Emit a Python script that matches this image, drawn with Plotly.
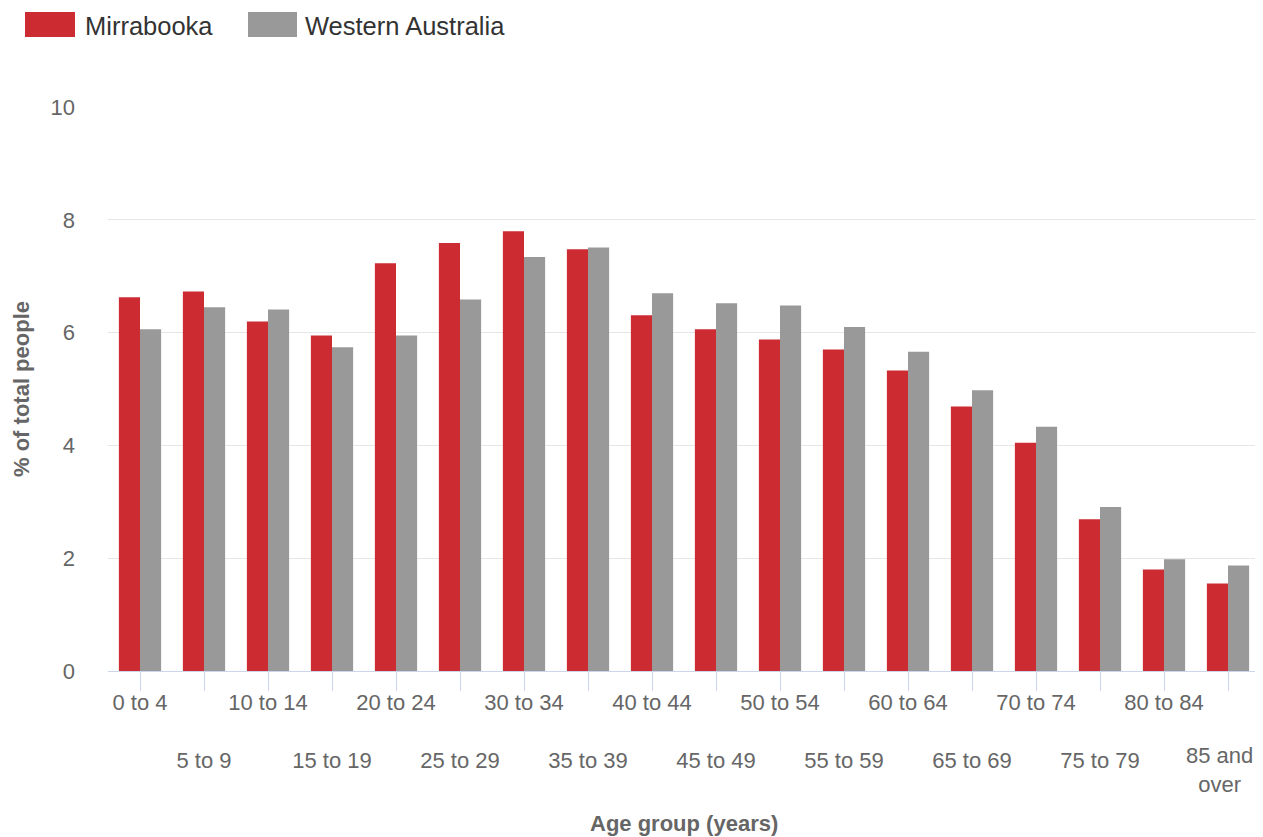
import plotly.graph_objects as go

categories = ["0 to 4", "5 to 9", "10 to 14", "15 to 19", "20 to 24", "25 to 29",
              "30 to 34", "35 to 39", "40 to 44", "45 to 49", "50 to 54", "55 to 59",
              "60 to 64", "65 to 69", "70 to 74", "75 to 79", "80 to 84", "85 and over"]
tick_labels = ["0 to 4", "<br><br>5 to 9", "10 to 14", "<br><br>15 to 19", "20 to 24",
               "<br><br>25 to 29", "30 to 34", "<br><br>35 to 39", "40 to 44",
               "<br><br>45 to 49", "50 to 54", "<br><br>55 to 59", "60 to 64",
               "<br><br>65 to 69", "70 to 74", "<br><br>75 to 79", "80 to 84",
               ""]
last_label = "85 and<br>over"
x_title = "Age group (years)"
y_title = "% of total people"
mirrabooka = [6.63, 6.73, 6.20, 5.95, 7.23, 7.59, 7.80, 7.48, 6.31, 6.06, 5.88, 5.70,
              5.33, 4.69, 4.05, 2.69, 1.80, 1.55]
western_australia = [6.06, 6.45, 6.41, 5.74, 5.95, 6.59, 7.34, 7.51, 6.70, 6.52, 6.48, 6.10,
                     5.66, 4.98, 4.33, 2.91, 1.98, 1.87]
series_names = ["Mirrabooka", "Western Australia"]
series_colors = ["#CC2B32", "#999999"]

FONT = "Liberation Sans, Arial, sans-serif"

fig = go.Figure()
for name, vals, col in zip(series_names, [mirrabooka, western_australia], series_colors):
    fig.add_trace(go.Bar(name=name, x=categories, y=vals,
                         marker=dict(color=col, line=dict(width=0))))

# helpers: page pixel -> paper coordinates
PL, PW, PB, PH = 108.0, 1152.0, 671.0, 564.0
def px(x):
    return (x - PL) / PW
def py(y):
    return (PB - y) / PH

# custom legend (large swatches like the reference)
legend_items = [(25, 75, 83), (248, 297, 303)]
for (x0, x1, tx), name, col in zip(legend_items, series_names, series_colors):
    fig.add_shape(type="rect", xref="paper", yref="paper",
                  x0=px(x0), x1=px(x1), y0=py(37), y1=py(12),
                  fillcolor=col, line=dict(width=0))
    fig.add_annotation(xref="paper", yref="paper", x=px(tx), y=py(26),
                       xanchor="left", yanchor="middle", showarrow=False,
                       text=name, font=dict(size=25.5, color="#333333"))

# last category label, kept inside the right edge (as the reference does)
fig.add_annotation(xref="paper", yref="paper", x=px(1255), y=py(741),
                   xanchor="right", yanchor="top", showarrow=False, align="center",
                   text=last_label, font=dict(size=22, color="#666666"))

# x-axis title
fig.add_annotation(xref="paper", yref="paper", x=0.5, y=py(823),
                   xanchor="center", yanchor="middle", showarrow=False,
                   text="<b>" + x_title + "</b>", font=dict(size=22, color="#666666"))

fig.update_layout(
    width=1255, height=829,
    margin=dict(l=100, r=3, t=99, b=166, autoexpand=False),
    paper_bgcolor="white", plot_bgcolor="white",
    font=dict(family=FONT, size=22, color="#666666"),
    barmode="group", bargap=0.34, bargroupgap=0,
    showlegend=False,
    xaxis=dict(
        tickmode="array", tickvals=categories, ticktext=tick_labels, tickangle=0,
        ticks="outside", ticklen=19, tickwidth=1, tickcolor="#ccd6eb",
        showline=True, linecolor="#ccd6eb", linewidth=1,
        showgrid=False, automargin=False, ticklabelstandoff=-7,
        tickfont=dict(size=22, color="#666666"),
    ),
    yaxis=dict(
        range=[0, 10.002], tickvals=[0, 2, 4, 6, 8, 10],
        showgrid=True, gridcolor="#e6e6e6", gridwidth=1,
        zeroline=False, showline=False, automargin=False,
        ticks="", ticklabelstandoff=32,
        tickfont=dict(size=22, color="#666666"),
        title=dict(text="<b>" + y_title + "</b>", font=dict(size=22, color="#666666"),
                   standoff=14),
    ),
)

fig.write_html("out.html")
